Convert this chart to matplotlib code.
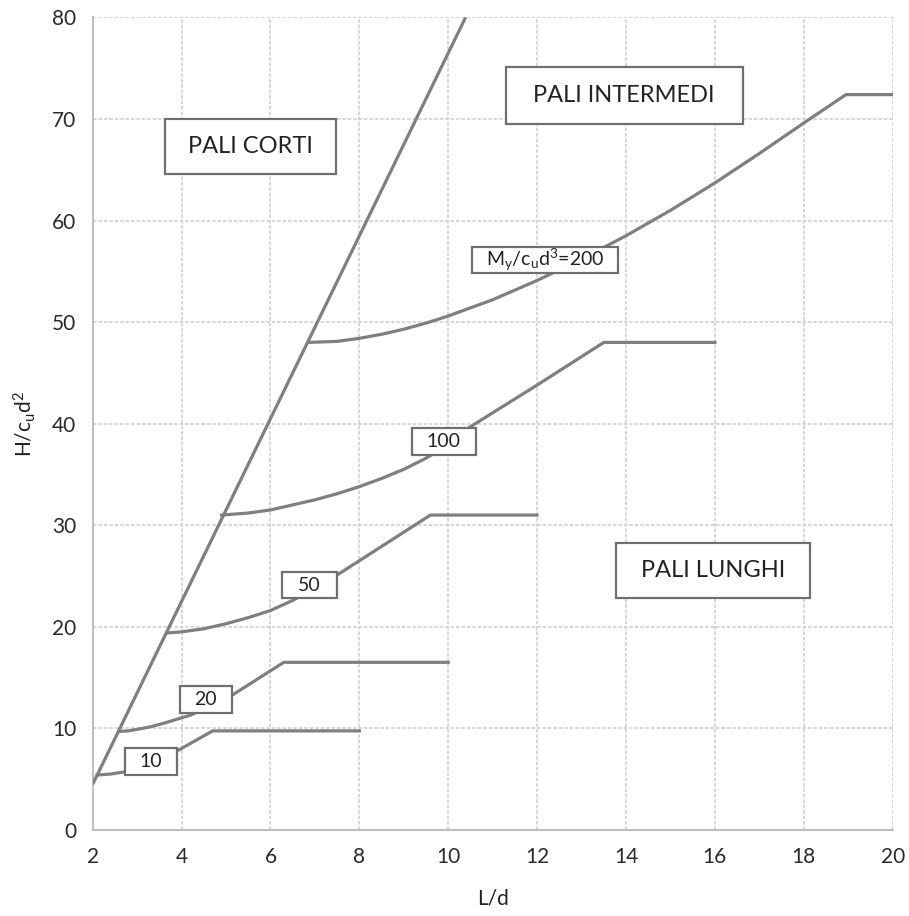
import matplotlib
matplotlib.use('Agg')
import matplotlib.pyplot as plt
from matplotlib.patches import Rectangle

plt.rcParams['font.family'] = ['Lato', 'DejaVu Sans']
plt.rcParams['mathtext.default'] = 'regular'

# limite pali corti: H/cu d2 = 9 (L/d - 1.5)
short_x = [2.0, 10.39]
short_y = [4.5, 80.0]

# curve My/cu d3
my10_x = [2.1, 2.4, 2.7, 3.3, 3.95, 4.7, 8.0]
my10_y = [5.4, 5.5, 5.7, 6.6, 7.9, 9.75, 9.75]

my20_x = [2.6, 2.8, 3.0, 3.3, 3.6, 3.9, 4.2, 4.6, 5.15, 6.3, 10.0]
my20_y = [9.7, 9.75, 9.9, 10.15, 10.5, 10.9, 11.3, 12.1, 13.3, 16.5, 16.5]

my50_x = [3.7, 4.0, 4.5, 5.0, 5.5, 6.0, 6.5, 7.0, 7.5, 9.6, 12.0]
my50_y = [19.4, 19.5, 19.8, 20.3, 20.9, 21.6, 22.6, 23.8, 25.1, 31.0, 31.0]

my100_x = [4.9, 5.5, 6.0, 6.5, 7.0, 7.5, 8.0, 8.5, 9.0, 9.5, 10.0, 10.5, 12.0, 13.5, 16.0]
my100_y = [31.0, 31.2, 31.5, 32.0, 32.5, 33.1, 33.8, 34.6, 35.5, 36.6, 37.9, 39.7, 43.8, 48.0, 48.0]

my200_x = [6.85, 7.5, 8.0, 8.5, 9.0, 9.5, 10.0, 11.0, 12.0, 13.0, 14.0, 15.0, 16.0, 17.0, 18.0, 18.95, 20.0]
my200_y = [48.0, 48.1, 48.4, 48.8, 49.3, 49.9, 50.6, 52.2, 54.1, 56.2, 58.5, 61.0, 63.7, 66.6, 69.6, 72.4, 72.4]

curves = [(my10_x, my10_y), (my20_x, my20_y), (my50_x, my50_y),
          (my100_x, my100_y), (my200_x, my200_y)]

# etichette: (x, y, testo, larghezza, altezza)
labels = [
    (3.31, 6.74, '10', 1.17, 2.66),
    (4.54, 12.8, '20', 1.17, 2.66),
    (6.88, 24.1, '50', 1.22, 2.5),
    (9.9, 38.2, '100', 1.45, 2.66),
    (12.18, 56.1, 'M$_y$/c$_u$d$^3$=200', 3.28, 2.6),
]
regions = [
    (5.55, 67.3, 'PALI CORTI', 3.86, 5.4),
    (13.96, 72.3, 'PALI INTERMEDI', 5.34, 5.57),
    (15.96, 25.54, 'PALI LUNGHI', 4.35, 5.47),
]

line_col = '#7f7f7f'
grid_col = '#d4d4d4'

fig = plt.figure(figsize=(9.09, 9.16), dpi=100)
ax = fig.add_axes([0.102, 0.094, 0.880, 0.887])

ax.plot(short_x, short_y, color=line_col, lw=2.3, solid_capstyle='butt', zorder=3)
for cx, cy in curves:
    ax.plot(cx, cy, color=line_col, lw=2.3, solid_joinstyle='round', zorder=3)

for x, y, t, w, h in labels:
    ax.add_patch(Rectangle((x - w / 2, y - h / 2), w, h, facecolor='white',
                           edgecolor='#6f6f6f', lw=1.6, zorder=4))
    ax.text(x, y, t, ha='center', va='center', fontsize=14, color='#222222', zorder=5)

for x, y, t, w, h in regions:
    ax.add_patch(Rectangle((x - w / 2, y - h / 2), w, h, facecolor='white',
                           edgecolor='#6f6f6f', lw=1.6, zorder=4))
    ax.text(x, y, t, ha='center', va='center', fontsize=17, color='#222222', zorder=5)

ax.set_xlim(2, 20)
ax.set_ylim(0, 80)
ax.set_xticks(range(2, 21, 2))
ax.set_yticks(range(0, 81, 10))
ax.grid(True, color=grid_col, lw=1.3, linestyle=(0, (2, 1)), zorder=0)
ax.set_axisbelow(True)
ax.tick_params(length=0, labelsize=15, labelcolor='#2a2a2a', pad=12)

for s in ['top', 'right']:
    ax.spines[s].set_visible(False)
for s in ['left', 'bottom']:
    ax.spines[s].set_color('#bfbfbf')
    ax.spines[s].set_linewidth(1.5)

ax.set_xlabel('L/d', fontsize=15, color='#222222', labelpad=16)
ax.set_ylabel('H/c$_u$d$^2$', fontsize=15, color='#222222', labelpad=10)

plt.savefig('out.png', dpi=100)
